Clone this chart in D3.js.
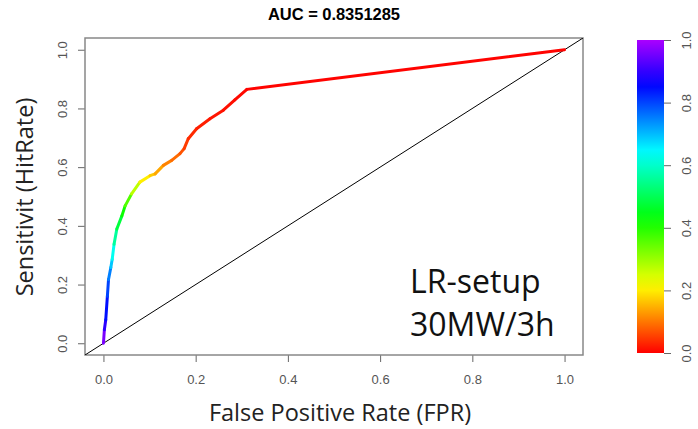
<html>

<head>
    <style>
        body { margin: 0; background: white; }
        .tick text { fill: #555; font-family: "Liberation Sans", Arial, sans-serif; font-size: 13px; }
        .tick line { stroke: #666; }
    </style>
</head>

<body>
    <svg id="chart"></svg>
</body>
<script src="https://cdn.jsdelivr.net/npm/d3@7"></script>
<script>
    let width = 698,
        height = 429;

    // ROC curve points
    let fpr = [0, 0.002, 0.005, 0.0085, 0.011, 0.016, 0.019, 0.023, 0.029, 0.040, 0.047, 0.061, 0.079,
        0.101, 0.112, 0.130, 0.148, 0.166, 0.175, 0.184, 0.202, 0.231, 0.260, 0.285, 0.311, 1]
    let tpr = [0, 0.046, 0.08, 0.16, 0.217, 0.258, 0.286, 0.337, 0.389, 0.434, 0.468, 0.509, 0.549,
        0.571, 0.577, 0.606, 0.623, 0.646, 0.663, 0.697, 0.731, 0.765, 0.794, 0.829, 0.865, 1]
    let cutoff = [1.0, 0.92, 0.87, 0.82, 0.78, 0.72, 0.66, 0.6, 0.52, 0.44, 0.4, 0.32, 0.22,
        0.18, 0.16, 0.12, 0.1, 0.08, 0.06, 0.04, 0.03, 0.02, 0.015, 0.01, 0.005, 0.0]

    let axisTicks = [0, 0.2, 0.4, 0.6, 0.8, 1.0]
    let title = "AUC = 0.8351285"
    let legendLines = ["LR-setup", "30MW/3h"]

    let svg = d3.select("#chart").attr("width", width).attr("height", height)

    let box = { left: 85, right: 583, top: 38, bottom: 355 }
    let x = d3.scaleLinear().domain([-0.04, 1.04]).range([box.left, box.right])
    let y = d3.scaleLinear().domain([-0.04, 1.04]).range([box.bottom, box.top])

    // rainbow from red (0) to purple (1)
    let color = t => d3.hsl(t * 280, 1, 0.5).toString()

    // title
    svg.append("text")
        .attr("x", (box.left + box.right) / 2).attr("y", 20)
        .attr("text-anchor", "middle")
        .style("font-family", "'Liberation Sans', Arial, sans-serif")
        .style("font-weight", "bold").style("font-size", "16.5px")
        .attr("textLength", 132)
        .text(title)

    // axes
    let xAxis = svg.append("g")
        .attr("transform", `translate(0,${box.bottom})`)
        .call(d3.axisBottom(x).tickValues(axisTicks).tickSize(7).tickPadding(13).tickFormat(d3.format(".1f")))
    xAxis.select(".domain").remove()

    let yAxis = svg.append("g")
        .attr("transform", `translate(${box.left},0)`)
        .call(d3.axisLeft(y).tickValues(axisTicks).tickSize(7).tickPadding(9).tickFormat(d3.format(".1f")))
    yAxis.select(".domain").remove()
    yAxis.selectAll(".tick text")
        .attr("text-anchor", "middle")
        .attr("x", null).attr("dy", null)
        .attr("transform", "translate(-18,0) rotate(-90)")

    // plot box
    svg.append("rect")
        .attr("x", box.left).attr("y", box.top)
        .attr("width", box.right - box.left).attr("height", box.bottom - box.top)
        .attr("fill", "none").attr("stroke", "#888").attr("stroke-width", 1.5)

    // clip for diagonal
    svg.append("clipPath").attr("id", "clip")
        .append("rect")
        .attr("x", box.left).attr("y", box.top)
        .attr("width", box.right - box.left).attr("height", box.bottom - box.top)

    svg.append("line")
        .attr("clip-path", "url(#clip)")
        .attr("x1", x(-0.04)).attr("y1", y(-0.04))
        .attr("x2", x(1.04)).attr("y2", y(1.04))
        .attr("stroke", "black").attr("stroke-width", 1)

    // coloured ROC curve, one segment per step
    let segs = d3.range(fpr.length - 1)
    svg.append("g")
        .selectAll("line")
        .data(segs)
        .enter()
        .append("line")
        .attr("x1", i => x(fpr[i])).attr("y1", i => y(tpr[i]))
        .attr("x2", i => x(fpr[i + 1])).attr("y2", i => y(tpr[i + 1]))
        .attr("stroke", i => color((cutoff[i] + cutoff[i + 1]) / 2))
        .attr("stroke-width", 3)
        .attr("stroke-linecap", "round")

    // legend text
    svg.append("g")
        .selectAll("text")
        .data(legendLines)
        .enter()
        .append("text")
        .attr("x", 410).attr("y", (d, i) => 293 + i * 43)
        .style("font-family", "'Open Sans', sans-serif")
        .style("font-size", "32px").attr("fill", "#111")
        .text(d => d)

    // axis titles
    svg.append("text")
        .attr("x", 340).attr("y", 421)
        .attr("text-anchor", "middle")
        .style("font-family", "'Open Sans', sans-serif").style("font-size", "23.5px").attr("fill", "#222")
        .text("False Positive Rate (FPR)")

    svg.append("text")
        .attr("transform", "translate(33,197) rotate(-90)")
        .attr("text-anchor", "middle")
        .style("font-family", "'Open Sans', sans-serif").style("font-size", "23.5px").attr("fill", "#222")
        .text("Sensitivit (HitRate)")

    // colour bar
    let bar = { left: 637, right: 664, top: 40, bottom: 353 }
    let cb = d3.scaleLinear().domain([0, 1]).range([bar.bottom, bar.top])
    let grad = svg.append("defs").append("linearGradient")
        .attr("id", "rainbow").attr("x1", 0).attr("y1", 1).attr("x2", 0).attr("y2", 0)
    grad.selectAll("stop")
        .data(d3.range(0, 1.0001, 0.05))
        .enter()
        .append("stop")
        .attr("offset", d => d)
        .attr("stop-color", d => color(d))
    svg.append("rect")
        .attr("x", bar.left).attr("y", bar.top)
        .attr("width", bar.right - bar.left).attr("height", bar.bottom - bar.top)
        .attr("fill", "url(#rainbow)")

    let cAxis = svg.append("g")
        .attr("transform", `translate(${bar.right},0)`)
        .call(d3.axisRight(cb).tickValues(axisTicks).tickSize(7).tickPadding(9).tickFormat(d3.format(".1f")))
    cAxis.select(".domain").remove()
    cAxis.selectAll(".tick text")
        .attr("text-anchor", "middle")
        .attr("x", null).attr("dy", null)
        .attr("transform", "translate(27,0) rotate(-90)")
</script>

</html>
